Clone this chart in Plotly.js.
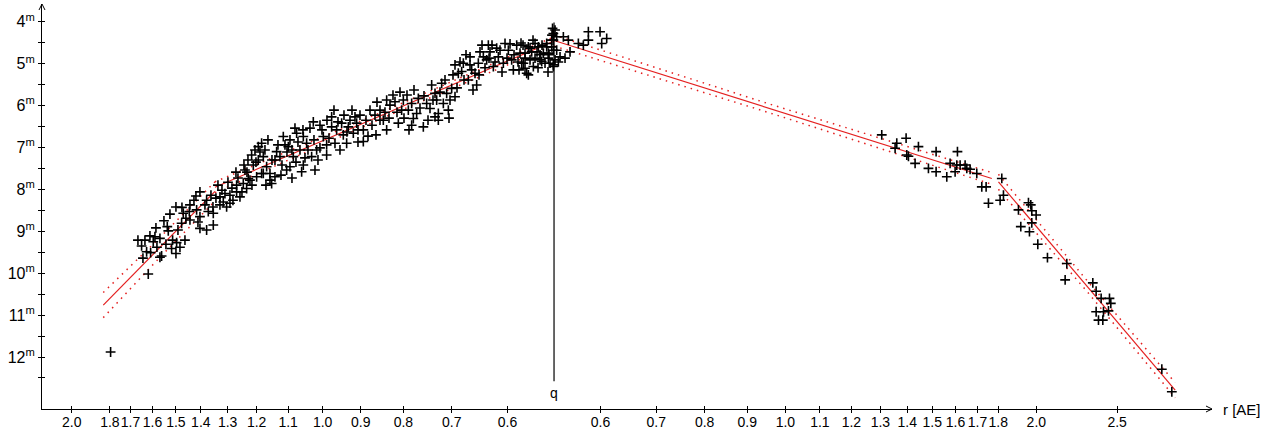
<!DOCTYPE html>
<html>
<head>
<meta charset="utf-8">
<script src="https://cdn.plot.ly/plotly-3.0.1.min.js"></script>
<style>html,body{margin:0;padding:0;background:#fff;}#chart{width:1266px;height:429px;}</style>
</head>
<body>
<div id="chart"></div>
<script>
// Perihelion distance q [AE]; x coordinate = ±log10(r/q) (pre-perihelion negative)
const q = 0.5277;

// Tick labels (heliocentric distance r in AE)
const leftTickR = [2.0, 1.8, 1.7, 1.6, 1.5, 1.4, 1.3, 1.2, 1.1, 1.0, 0.9, 0.8, 0.7, 0.6];
const rightTickR = [0.6, 0.7, 0.8, 0.9, 1.0, 1.1, 1.2, 1.3, 1.4, 1.5, 1.6, 1.7, 1.8, 2.0, 2.5];
const magTicks = [4, 5, 6, 7, 8, 9, 10, 11, 12];
const magMinor = [4.5, 5.5, 6.5, 7.5, 8.5, 9.5, 10.5, 11.5, 12.5];

// Observations before perihelion: x = -log10(r/q), magnitude
const preX = [-0.5320,-0.4868,-0.4948,-0.4908,-0.4888,-0.4848,-0.4840,-0.4808,-0.4788,-0.4728,-0.4728,-0.4708,-0.4680,-0.4640,-0.4628,-0.4608,-0.4588,-0.4576,-0.4536,-0.4536,
-0.4528,-0.4488,-0.4468,-0.4464,-0.4448,-0.4376,-0.4368,-0.4368,-0.4288,-0.4248,-0.4248,-0.4248,-0.4168,-0.4148,-0.4088,-0.4088,-0.4008,-0.3968,-0.3948,-0.3928,
-0.3888,-0.3808,-0.3728,-0.3688,-0.3648,-0.3568,-0.3488,-0.3408,-0.3388,-0.3348,-0.4168,-0.4092,-0.4008,-0.3852,-0.3808,-0.3768,-0.3708,-0.3668,-0.3628,-0.3588,
-0.3548,-0.3508,-0.3488,-0.3548,-0.3448,-0.3408,-0.3508,-0.3608,-0.3328,-0.3288,-0.3348,-0.3248,-0.3228,-0.3168,-0.3188,-0.3208,-0.3168,-0.3128,-0.3108,-0.3088,
-0.3008,-0.3048,-0.2968,-0.3008,-0.3028,-0.2908,-0.2848,-0.2888,-0.2808,-0.2768,-0.2728,-0.2728,-0.2868,-0.2668,-0.2668,-0.2608,-0.2628,-0.2568,-0.2548,-0.2528,
-0.2468,-0.2448,-0.2388,-0.2408,-0.2368,-0.2288,-0.2288,-0.2488,-0.2208,-0.2148,-0.2008,-0.2088,-0.2048,-0.2008,-0.1968,-0.1908,-0.1868,-0.1828,-0.1808,-0.1748,
-0.1708,-0.1688,-0.1708,-0.1648,-0.1628,-0.1568,-0.1528,-0.1488,-0.1468,-0.1428,-0.1408,-0.1388,-0.1348,-0.1388,-0.1428,-0.1328,-0.1288,-0.1268,-0.1228,-0.1248,
-0.1188,-0.1188,-0.1148,-0.1088,-0.1108,-0.1008,-0.0988,-0.1028,-0.0928,-0.0948,-0.0908,-0.0888,-0.0848,-0.0788,-0.0808,-0.0768,-0.0728,-0.0688,-0.0668,-0.0608,
-0.0588,-0.0548,-0.0508,-0.0488,-0.0448,-0.0408,-0.0368,-0.0328,-0.0308,-0.0268,-0.0228,-0.0168,-0.0128,-0.0088,-0.0068,-0.0028,-0.0008,-0.0008,-0.0048,-0.0372,
-0.0348,-0.0288,-0.0228,-0.0188,-0.0168,-0.0088,-0.0068,-0.0028,-0.0008,-0.0008,-0.0308,-0.0348,-0.0388,-0.0148,-0.0248,-0.0008,-0.0018,
-0.4032,-0.3984,-0.3912,-0.3864,-0.3792,-0.3744,-0.3684,-0.3624,-0.3576,-0.3528,-0.3672,-0.3720,-0.3816,-0.3888,-0.4056,-0.4116,-0.4188,-0.4272,-0.4320,-0.4416,
-0.4512,-0.4428,-0.4656,-0.4764,-0.4932,-0.4992,-0.4776,-0.4296,
-0.3468,-0.3432,-0.3384,-0.3312,-0.3264,-0.3204,-0.3144,-0.3096,-0.3072,-0.3012,-0.2952,-0.2928,-0.2880,-0.2832,-0.2784,-0.2724,-0.2700,-0.3276,-0.3456,-0.3144,
-0.2988,-0.2808,
-0.2640,-0.2592,-0.2520,-0.2484,-0.2424,-0.2352,-0.2328,-0.2256,-0.2232,-0.2184,-0.2124,-0.2088,-0.2028,-0.1980,-0.1932,-0.1884,-0.1848,-0.1800,-0.1764,-0.1740,
-0.1680,-0.1608,-0.1560,-0.1512,-0.2352,-0.2136,
-0.1452,-0.1368,-0.1308,-0.1260,-0.1212,-0.1164,-0.1128,-0.1080,-0.1056,-0.1008,-0.0972,-0.0900,-0.0864,-0.0828,-0.0780,-0.0744,-0.0708,-0.0648,-0.0624,-0.0564,
-0.0528,-0.0480,-0.0432,-0.0396,-0.0348,-0.0288,-0.0252,-0.0204,-0.0144,-0.0108,-0.0060,-0.0024,-0.0072,-0.0192,-0.0420];
const preMag = [11.88,10.02,9.35,9.21,9.49,9.11,9.51,9.25,9.13,9.17,9.62,9.59,8.75,8.89,8.99,8.59,9.41,9.21,8.42,9.53,
9.27,9.38,8.81,8.43,8.57,8.53,8.37,8.73,8.49,8.06,8.65,8.93,8.97,8.53,8.57,8.85,8.18,8.30,8.10,8.42,
8.14,7.90,7.86,7.98,7.78,7.70,7.62,7.78,7.86,7.70,8.26,8.42,8.37,8.26,8.06,8.18,7.54,7.74,7.18,7.06,
6.98,6.90,7.22,7.30,7.46,7.62,7.62,7.42,7.10,7.22,7.30,6.74,6.94,6.82,6.98,7.54,7.46,7.22,6.54,6.66,
6.74,7.06,6.90,7.42,7.58,7.22,7.06,6.39,6.47,6.74,6.94,7.18,7.54,6.27,6.51,6.58,6.90,7.06,6.42,6.70,
6.51,6.35,6.27,6.66,6.42,6.58,6.86,6.90,6.11,6.23,6.58,6.11,6.35,5.87,5.99,5.91,6.42,6.11,5.87,6.11,
5.95,6.31,6.47,6.19,5.83,6.51,5.95,6.07,5.51,5.71,5.87,6.19,5.47,6.35,6.27,5.95,5.71,6.11,5.59,5.87,
5.79,5.03,5.23,4.99,5.19,4.84,5.15,5.39,5.51,5.23,4.99,4.72,4.84,4.56,4.91,4.72,5.07,4.63,4.84,4.99,
4.52,4.68,4.91,5.15,4.56,4.75,4.99,5.23,4.60,4.72,4.87,4.91,4.75,4.60,4.75,4.44,4.68,5.03,4.99,4.56,
4.75,4.63,4.52,4.60,4.79,4.52,4.87,4.60,4.44,5.07,5.27,5.11,4.99,4.95,5.07,4.28,4.16,
7.90,8.02,7.83,7.97,7.73,8.06,7.59,7.90,7.35,7.11,7.30,7.42,7.59,8.33,8.21,8.14,8.37,8.78,8.26,8.69,
8.97,9.21,9.31,9.38,9.64,9.21,8.92,8.16,
7.06,6.82,7.30,6.94,7.42,7.11,7.06,7.35,6.87,6.58,7.06,6.54,6.82,7.30,6.58,6.35,6.78,7.66,7.90,7.73,
7.25,7.01,
6.11,6.39,6.23,6.63,6.11,6.58,6.23,6.35,6.73,6.47,5.92,6.35,6.16,6.30,5.75,6.16,5.68,6.30,5.75,6.58,
5.63,6.06,5.77,6.35,6.87,6.70,
5.87,5.68,5.39,6.30,5.27,5.58,4.96,5.39,4.79,5.03,5.63,5.27,4.56,5.10,4.87,4.56,4.96,4.68,5.20,4.87,
4.53,4.79,4.96,4.51,4.87,4.91,4.44,4.72,4.56,4.99,4.79,4.32,5.20,5.10,5.15];

// Observations after perihelion: x = +log10(r/q), magnitude
const postX = [0.0012,0.0032,0.0012,0.0072,0.0032,0.0052,0.0132,0.0112,0.0172,0.0192,0.0292,0.0352,0.0412,0.0412,0.0552,0.0632,0.0572,
0.3932,0.4112,0.4092,0.4224,0.4232,0.4252,0.4372,0.4332,0.4492,0.4584,0.4584,0.4712,0.4752,0.4812,0.4840,0.4832,0.4872,0.4932,0.4952,
0.4992,0.5072,0.5132,0.5184,0.5212,0.5372,0.5392,0.5352,0.5572,0.5692,0.5720,0.5732,0.5784,0.5732,0.5600,0.5704,0.5804,0.5920,0.6152,
0.6132,0.6464,0.6504,0.6564,0.6664,0.6680,0.6504,0.6592,0.6652,0.6532,0.6584,0.7292,0.7412];
const postMag = [4.20,4.36,4.91,4.84,4.68,4.96,4.87,4.36,4.44,4.72,4.52,4.56,4.24,4.44,4.24,4.40,4.52,
6.70,6.90,7.02,6.78,7.18,7.21,6.98,7.38,7.50,7.10,7.58,7.70,7.38,7.58,7.10,7.42,7.42,7.42,7.50,
7.52,7.62,7.94,7.94,8.33,7.74,8.14,8.26,8.49,8.32,8.37,8.51,8.61,8.80,8.89,9.01,9.31,9.63,9.77,
10.16,10.23,10.43,10.60,10.60,10.72,10.92,10.92,10.90,11.12,11.12,12.29,12.83];

// Fitted light-curve segments and their dotted error bands
const fitX = [[-0.5408, -0.4068], [-0.4068, 0], [0, 0.5252], [0.5332, 0.7452]];
const fitMag = [[10.76, 8.05], [7.95, 4.46], [4.45, 7.74], [7.82, 12.79]];
const bandX = [[-0.5408, -0.4738, -0.4068], [-0.4068, -0.2034, 0], [0, 0.2626, 0.5252], [0.5332, 0.6392, 0.7452]];
const bandUpper = [[10.46, 9.17, 7.82], [7.82, 6.13, 4.36], [4.32, 5.99, 7.60], [7.64, 10.17, 12.61]];
const bandLower = [[11.06, 9.64, 8.28], [8.08, 6.28, 4.56], [4.58, 6.20, 7.88], [8.00, 10.43, 12.97]];

const RED = 'rgb(228,32,32)';
const FONT = 'Liberation Sans, Arial, sans-serif';

const tickVals = leftTickR.map(r => -Math.log10(r / q)).concat(rightTickR.map(r => Math.log10(r / q)));
const tickText = leftTickR.concat(rightTickR).map(r => r.toFixed(1));
const magText = magTicks.map(m => m + '<sup>m</sup>');

const traces = [];
for (let i = 0; i < fitX.length; i++) {
  traces.push({x: bandX[i], y: bandUpper[i], mode: 'lines', line: {color: RED, width: 1.5, dash: '1.5px,5px'}, hoverinfo: 'skip', showlegend: false});
  traces.push({x: bandX[i], y: bandLower[i], mode: 'lines', line: {color: RED, width: 1.5, dash: '1.5px,5px'}, hoverinfo: 'skip', showlegend: false});
  traces.push({x: fitX[i], y: fitMag[i], mode: 'lines', line: {color: RED, width: 1.2}, showlegend: false});
}
const markerStyle = {symbol: 'cross-thin', size: 7, color: '#000', line: {color: '#000', width: 1.6}};
traces.push({x: preX, y: preMag, mode: 'markers', marker: markerStyle, showlegend: false});
traces.push({x: postX, y: postMag, mode: 'markers', marker: markerStyle, showlegend: false});
// dummy trace to register overlay axes (crossing tick marks)
traces.push({x: [null], y: [null], xaxis: 'x2', yaxis: 'y2', mode: 'markers', showlegend: false, hoverinfo: 'skip'});

const xRange = [-0.6143, 0.7894];
const yRange = [13.24, 3.578];

const layout = {
  width: 1266, height: 429,
  margin: {l: 42, r: 54, t: 4, b: 20},
  paper_bgcolor: '#fff', plot_bgcolor: '#fff',
  showlegend: false,
  xaxis: {range: xRange, showline: true, linecolor: '#000', linewidth: 1, showgrid: false, zeroline: false,
    ticks: 'inside', ticklen: 3, tickwidth: 1, tickcolor: '#000', tickmode: 'array', tickvals: tickVals, ticktext: tickText,
    tickangle: 0, tickfont: {family: FONT, size: 14, color: '#000'}, automargin: false, fixedrange: true},
  yaxis: {range: yRange, showline: true, linecolor: '#000', linewidth: 1, showgrid: false, zeroline: false,
    ticks: 'outside', ticklen: 3, tickwidth: 1, tickcolor: '#000', tickmode: 'array', tickvals: magTicks, ticktext: magText,
    minor: {tickmode: 'array', tickvals: magMinor, ticks: 'outside', ticklen: 3, tickwidth: 1, tickcolor: '#000'},
    tickfont: {family: FONT, size: 16, color: '#000'}, automargin: false, fixedrange: true},
  xaxis2: {range: xRange, overlaying: 'x', anchor: 'y', side: 'bottom', showline: false, showgrid: false, zeroline: false,
    ticks: 'outside', ticklen: 3, tickwidth: 1, tickcolor: '#000', tickmode: 'array', tickvals: tickVals, showticklabels: false, fixedrange: true},
  yaxis2: {range: yRange, overlaying: 'y', anchor: 'x', side: 'left', showline: false, showgrid: false, zeroline: false,
    ticks: 'inside', ticklen: 3, tickwidth: 1, tickcolor: '#000', tickmode: 'array', tickvals: magTicks, showticklabels: false,
    minor: {tickmode: 'array', tickvals: magMinor, ticks: 'inside', ticklen: 3, tickwidth: 1, tickcolor: '#000'}, fixedrange: true},
  shapes: [
    {type: 'line', xref: 'x', yref: 'y', x0: 0, x1: 0, y0: 4.02, y1: 12.58, line: {color: '#000', width: 1.2}},
    {type: 'path', xref: 'paper', yref: 'paper', path: 'M -0.00256,0.98519 L 0,1 L 0.00256,0.98519', line: {color: '#000', width: 1}},
    {type: 'path', xref: 'paper', yref: 'paper', path: 'M 0.99487,0.0074 L 1,0 L 0.99487,-0.0074', line: {color: '#000', width: 1}}
  ],
  annotations: [
    {text: 'q', xref: 'x', yref: 'y', x: 0, y: 12.86, showarrow: false, font: {family: FONT, size: 14, color: '#000'}},
    {text: 'r [AE]', xref: 'paper', yref: 'paper', x: 1, y: 0, xshift: 9, xanchor: 'left', yanchor: 'middle', showarrow: false,
      font: {family: FONT, size: 15, color: '#000'}}
  ]
};

Plotly.newPlot('chart', traces, layout, {staticPlot: true, displayModeBar: false});
</script>
</body>
</html>
